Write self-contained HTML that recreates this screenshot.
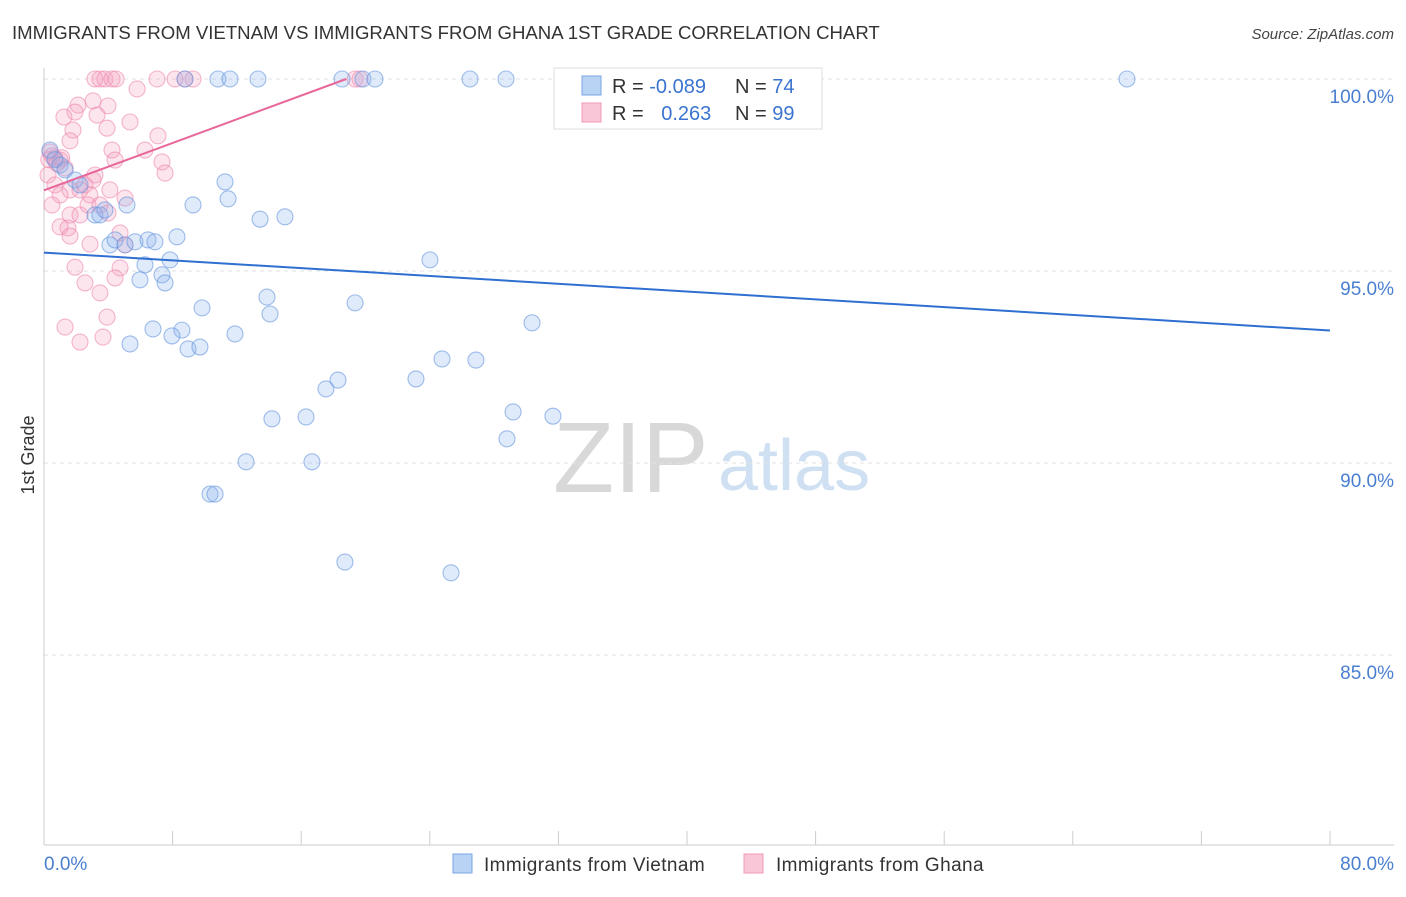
<!DOCTYPE html>
<html><head><meta charset="utf-8">
<style>
body{margin:0;background:#fff;font-family:"Liberation Sans",sans-serif;}
svg text{font-family:"Liberation Sans",sans-serif;}
</style></head>
<body>
<svg id="chart" width="1406" height="892" viewBox="0 0 1406 892" xmlns="http://www.w3.org/2000/svg">
<text x="12" y="39" font-size="18.6" fill="#333">IMMIGRANTS FROM VIETNAM VS IMMIGRANTS FROM GHANA 1ST GRADE CORRELATION CHART</text>
<text x="1394" y="39" font-size="15" fill="#444" text-anchor="end" font-style="italic">Source: ZipAtlas.com</text>
<g>
<text x="553" y="492" font-size="100" fill="#d8d8d8" font-family="Liberation Serif, serif">ZIP</text>
<text x="718" y="490" font-size="72" fill="#cfe0f3">atlas</text>
</g>
<g id="grid"></g>
<g id="axes"></g>
<g id="pts"></g>
<g id="trend"></g>
<text transform="translate(34,455) rotate(-90)" font-size="18" fill="#333" text-anchor="middle">1st Grade</text>
<text x="44" y="870" font-size="19" fill="#4a7fd0">0.0%</text>
<text x="1394" y="870" font-size="19" fill="#4a7fd0" text-anchor="end">80.0%</text>
<g>
<rect x="554" y="68" width="268" height="61" fill="#fff" stroke="#ddd"/>
<rect x="582" y="76" width="19" height="19" fill="#b9d3f5" stroke="#7aa5e3"/>
<rect x="582" y="103" width="19" height="19" fill="#f9c6d8" stroke="#f09ab9"/>
<text x="612" y="93" font-size="20" fill="#333">R = <tspan fill="#3b74d0">-0.089</tspan></text>
<text x="735" y="93" font-size="20" fill="#333">N = <tspan fill="#3b74d0">74</tspan></text>
<text x="612" y="120" font-size="20" fill="#333">R = <tspan fill="#3b74d0" dx="12">0.263</tspan></text>
<text x="735" y="120" font-size="20" fill="#333">N = <tspan fill="#3b74d0">99</tspan></text>
</g>
<g>
<rect x="453" y="854" width="19" height="19" fill="#b9d3f5" stroke="#7aa5e3"/>
<text x="484" y="871" font-size="19" letter-spacing="0.4" fill="#333">Immigrants from Vietnam</text>
<rect x="744" y="854" width="19" height="19" fill="#f9c6d8" stroke="#f09ab9"/>
<text x="776" y="871" font-size="19" letter-spacing="0.4" fill="#333">Immigrants from Ghana</text>
</g>
</svg>
<script>
const yTicks=[100,95,90,85];
const yTickLabels=["100.0%","95.0%","90.0%","85.0%"];
const xTickCount=10;
const blueX=[0.37,0.68,1.0,1.31,1.93,2.24,3.17,3.48,3.79,5.16,4.1,4.42,5.04,5.66,6.47,6.9,8.27,6.28,7.84,7.34,5.97,7.53,11.26,11.45,9.27,13.44,14.99,9.83,13.87,14.06,19.35,24.01,30.36,6.78,8.58,7.96,5.35,8.96,9.7,11.88,24.76,26.87,18.29,17.54,23.14,29.18,31.66,16.3,14.18,28.8,12.57,16.67,10.33,10.64,18.72,25.32,8.77,10.82,11.57,13.31,18.54,19.84,20.59,26.5,28.74,43.11,67.37];
const blueY=[98.15,97.9,97.76,97.63,97.37,97.24,96.46,96.46,96.59,96.72,95.68,95.81,95.68,95.76,95.81,95.76,95.89,95.16,95.29,94.9,94.77,94.69,97.32,96.88,96.72,96.35,96.41,94.04,94.32,93.88,94.17,95.29,93.65,93.49,93.46,93.31,93.1,92.97,93.02,93.36,92.71,92.68,92.16,91.93,92.19,91.33,91.22,91.2,91.15,90.63,90.03,90.03,89.19,89.19,87.42,87.14,100,100,100,100,100,100,100,100,100,100,100];
const pinkX=[3.17,3.48,3.79,4.23,4.48,7.03,8.15,8.77,9.27,19.35,19.66,5.79,2.12,3.05,3.98,3.3,1.24,1.93,5.35,3.92,1.8,1.62,7.09,6.28,7.34,7.53,4.23,4.42,0.37,0.68,1.0,1.31,0.25,0.68,1.0,1.62,2.24,2.55,2.86,3.05,3.17,4.1,5.04,0.5,1.62,2.24,2.74,3.48,3.98,1.49,1.0,1.62,2.86,4.73,5.04,1.93,2.55,3.48,4.73,4.42,3.92,1.31,3.67,2.24,0.3,0.5,0.8,1.1];
const pinkY=[100,100,100,100,100,100,100,100,100,100,100,99.74,99.32,99.43,99.3,99.06,99.01,99.14,98.88,98.72,98.67,98.39,98.52,98.15,97.84,97.55,98.15,97.89,98.1,97.94,97.89,97.68,97.5,97.24,96.98,97.11,97.11,97.24,96.98,97.37,97.5,97.11,96.9,96.72,96.46,96.46,96.72,96.72,96.51,96.12,96.15,95.91,95.7,95.99,95.68,95.1,94.69,94.43,95.08,94.82,93.8,93.54,93.28,93.15,97.9,98.0,97.8,97.95];
const blueTrend=[95.48,93.45];
const pinkTrend=[97.1,100];
const pinkTrendEndX=18.8;
const X0=44,X1=1330,Y100=79,PXPER=38.4;
const sx=v=>X0+(v/80)*(X1-X0);
const sy=v=>Y100+(100-v)*PXPER;
const NS="http://www.w3.org/2000/svg";
function mk(t,a,p){const e=document.createElementNS(NS,t);for(const k in a)e.setAttribute(k,a[k]);p.appendChild(e);return e;}
const grid=document.getElementById('grid'),axes=document.getElementById('axes'),pts=document.getElementById('pts'),trend=document.getElementById('trend');
yTicks.forEach((t,i)=>{
 const l=mk('line',{x1:X0,x2:1394,y1:sy(t),y2:sy(t),stroke:'#e2e2e2','stroke-dasharray':'4,4'},grid);
 
 
 const tx=mk('text',{x:1394,y:sy(t)+24,'font-size':19,fill:'#4a7fd0','text-anchor':'end'},grid);
 tx.textContent=yTickLabels[i];
 
 
});
let a=mk('line',{x1:X0,x2:X0,y1:68,y2:845,stroke:'#ccc'},axes);


a=mk('line',{x1:X0,x2:1394,y1:845,y2:845,stroke:'#ccc'},axes);


for(let i=0;i<=xTickCount;i++){
 const x=sx(i*8);
 const t=mk('line',{x1:x,x2:x,y1:831,y2:845,stroke:'#ccc'},axes);
 
 
}
pinkX.forEach((v,i)=>{
 const c=mk('circle',{cx:sx(v),cy:sy(pinkY[i]),r:8,fill:'rgba(246,160,192,0.28)',stroke:'rgba(238,135,175,0.6)','stroke-width':1.1},pts);
 
 
});
blueX.forEach((v,i)=>{
 const c=mk('circle',{cx:sx(v),cy:sy(blueY[i]),r:8,fill:'rgba(140,178,238,0.28)',stroke:'rgba(100,148,222,0.6)','stroke-width':1.1},pts);
 
 
});
let tl=mk('line',{x1:sx(0),y1:sy(blueTrend[0]),x2:sx(80),y2:sy(blueTrend[1]),stroke:'#2f6fd1','stroke-width':2},trend);


tl=mk('line',{x1:sx(0),y1:sy(pinkTrend[0]),x2:sx(pinkTrendEndX),y2:sy(pinkTrend[1]),stroke:'#e8679a','stroke-width':2},trend);


</script>
</body></html>
